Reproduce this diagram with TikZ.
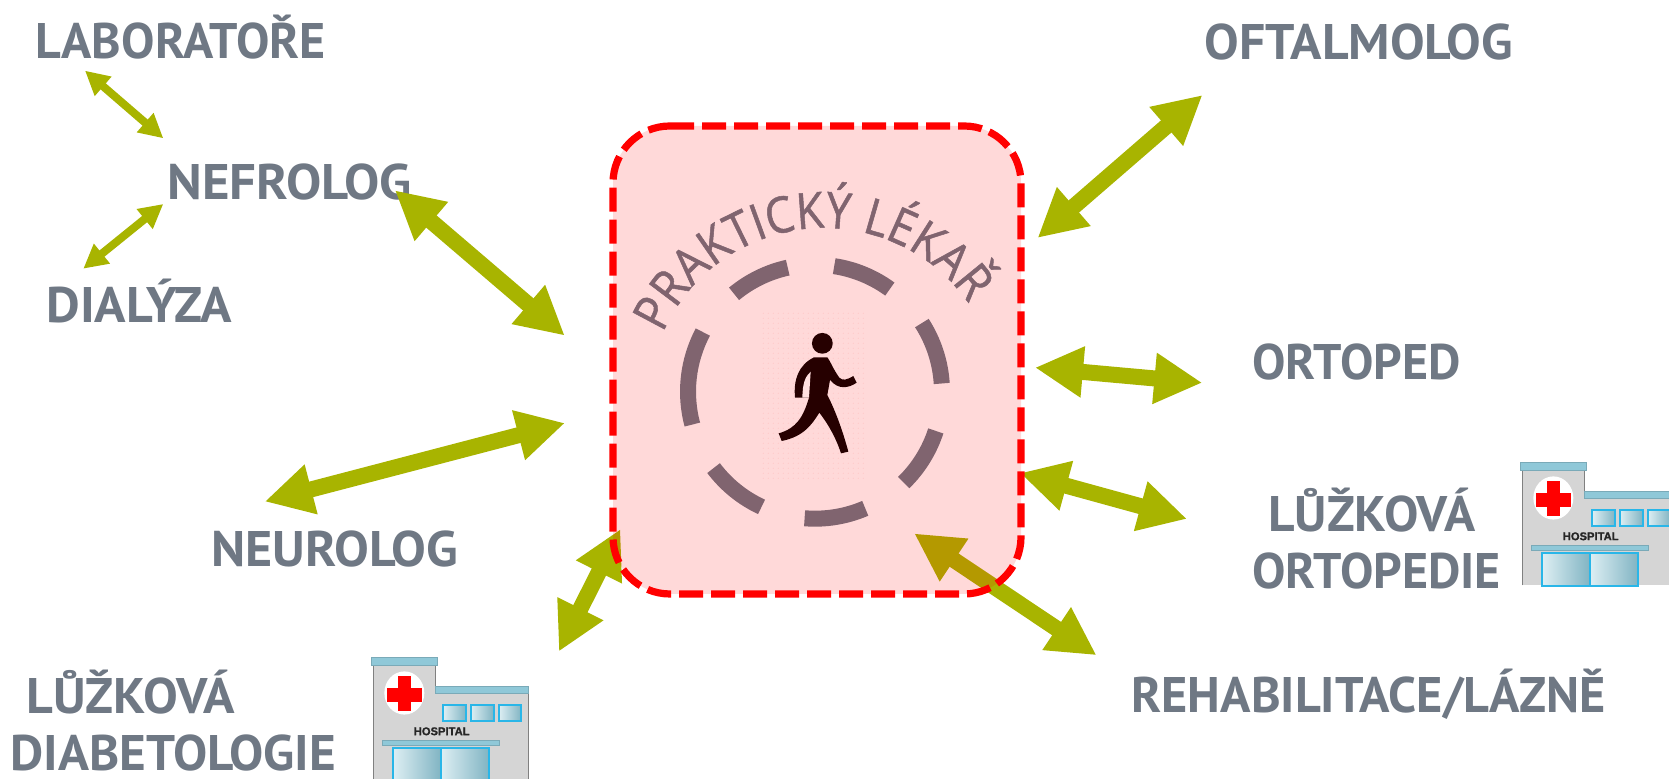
\documentclass[tikz,border=0pt]{standalone}
\usepackage{graphicx}
\usepackage{fontspec}
\usetikzlibrary{arrows.meta,decorations.text}
\setmainfont{PT Sans}
\newfontfamily\curvefont[FakeStretch=0.9,FakeBold=1]{Open Sans}
\newfontfamily\hospfont[FakeBold=1.2]{Liberation Sans}
\definecolor{labelgrey}{HTML}{6F7884}
\definecolor{arrowolive}{HTML}{A8B400}
\definecolor{ringmauve}{HTML}{80646F}
\definecolor{walkerdark}{HTML}{260000}
\definecolor{roofblue}{HTML}{8FC8D8}
\definecolor{glassblue}{HTML}{29B6E8}
\definecolor{wallgrey}{HTML}{D5D5D5}
\newcommand{\wide}[2]{\scalebox{#1}[1]{#2}}
\tikzset{
  lbl/.style={anchor=base west,inner sep=0pt,text=labelgrey,font=\fontsize{25}{25}\selectfont\bfseries},
  bigarrow/.style={draw=arrowolive,line width=8pt,shorten <=-.5pt,shorten >=-.5pt,{Triangle[length=24pt,width=24pt]}-{Triangle[length=24pt,width=24pt]}},
  thinarrow/.style={draw=arrowolive,line width=4pt,{Triangle[length=12pt,width=12pt]}-{Triangle[length=12pt,width=12pt]}},
  ringarc/.style={draw=ringmauve,line width=8pt},
  glass/.style={draw=glassblue,line width=.9pt,left color=roofblue!30,right color=roofblue!90!black},
  roof/.style={fill=roofblue,draw=roofblue!85!black,line width=.3pt},
}
\newcommand{\hospitalpic}[2]{%
\begin{scope}[shift={(#1,#2)},x=0.16667pt,y=-0.16667pt]
  \fill[wallgrey] (7,24) rectangle (193,110);
  \fill[wallgrey] (7,110) rectangle (473,370);
  \draw[gray,line width=.6pt] (7,370) -- (7,24);
  \draw[gray,line width=.6pt] (193,24) -- (193,90);
  \draw[gray,line width=.6pt] (473,110) -- (473,370);
  \draw[roof] (0,0) rectangle (200,24);
  \draw[roof] (193,87) rectangle (473,110);
  \fill[white] (100,108) ellipse [x radius=10pt,y radius=10.8pt];
  \fill[red] (82,56) rectangle (119,163);
  \fill[red] (49,93) rectangle (154,135);
  \draw[glass] (217,145) rectangle (285,191);
  \draw[glass] (299,145) rectangle (368,191);
  \draw[glass] (383,145) rectangle (451,191);
  \node[inner sep=0pt,font=\hospfont\fontsize{5.6}{5.6}\selectfont\bfseries,text=black!85] at (212,223) {HOSPITAL};
  \draw[roof] (34,251) rectangle (384,264);
  \draw[glass] (67,273) rectangle (210,372);
  \draw[glass] (210,273) rectangle (354,372);
\end{scope}}
\begin{document}
\begin{tikzpicture}[x=0.5pt,y=0.5pt]
\useasboundingbox (0,0) rectangle (1669,779);

% labels
\node[lbl] (lab) at (35,720) {LABORATOŘE};
\node[lbl] (nef) at (167,579) {\wide{1.056}{NEFROLOG}};
\node[lbl] (dia) at (46,456) {\wide{1.04}{DIALÝZA}};
\node[lbl] (neu) at (211,212) {\wide{1.04}{NEUROLOG}};
\node[lbl] (ldb) at (26,65) {\wide{1.04}{LŮŽKOVÁ}};
\node[lbl] (dib) at (10,8) {\wide{1.024}{DIABETOLOGIE}};
\node[lbl] (oft) at (1204,719) {\wide{1.036}{OFTALMOLOG}};
\node[lbl] (ort) at (1252,399) {ORTOPED};
\node[lbl] (lor) at (1268,247) {\wide{1.03}{LŮŽKOVÁ}};
\node[lbl] (orp) at (1252,190) {ORTOPEDIE};
\node[lbl] (reh) at (1131,66) {\wide{1.005}{REHABILITACE/LÁZNĚ}};

% hospitals
\begin{scope}
  \clip (0,0) rectangle (1669,779);
  \hospitalpic{371}{122}
  \hospitalpic{1520}{317}
\end{scope}

% arrow ends
\coordinate (a1) at (85,708.3);    \coordinate (a2) at (163.3,640.7);
\coordinate (b1) at (163.3,575);   \coordinate (b2) at (83.3,510.3);
\coordinate (c1) at (395.7,588);   \coordinate (c2) at (564,444);
\coordinate (d1) at (564,355.7);   \coordinate (d2) at (265.7,277.7);
\coordinate (e1) at (620,249);     \coordinate (e2) at (559.3,128.3);
\coordinate (f1) at (1201.7,683.3);\coordinate (f2) at (1038.3,541.7);
\coordinate (g1) at (1036,411.3);  \coordinate (g2) at (1201.3,396.3);
\coordinate (h1) at (1021,305.7);  \coordinate (h2) at (1186,260.3);
\coordinate (i1) at (915,245);     \coordinate (i2) at (1095.7,124.3);

\draw[thinarrow] (a1) -- (a2);
\draw[thinarrow] (b1) -- (b2);
\draw[bigarrow] (c1) -- (c2);
\draw[bigarrow] (d1) -- (d2);
\draw[bigarrow] (e1) -- (e2);
\draw[bigarrow] (f1) -- (f2);
\draw[bigarrow] (g1) -- (g2);
\draw[bigarrow] (h1) -- (h2);
\draw[bigarrow] (i1) -- (i2);

% box (drawn clockwise from the top-left so the dashes fall as in the reference)
\path[rounded corners=28.5pt,fill=red,fill opacity=.15,draw=red,draw opacity=1,line width=3.6pt,
      dash pattern=on 12pt off 4pt]
  (670,653) -- (1021,653) -- (1021,185) -- (613,185) -- (613,653) -- (670,653);

% ring
\coordinate (ringc) at (815,387.3);
\foreach \a/\b in {129.6/102.4,81.3/53.9,32.7/3.7,-18/-45.7,-66.7/-94.7,-114.9/-143,-165/-208}
  \draw[ringarc] (ringc) ++(\a:63.5pt) arc[start angle=\a,end angle=\b,radius=63.5pt];

% curved text
\coordinate (curvec) at (824,375);
\path[decorate,decoration={text along path,text align=center,
   text={|\curvefont\fontsize{25}{25}\selectfont\color{ringmauve}|PRAKTICKÝ LÉKAŘ}}]
   (curvec) ++(160:88pt) arc[start angle=160,end angle=31,radius=88pt];

% walker
\begin{scope}[shift={(740,479)},x=0.16667pt,y=-0.16667pt]
  \foreach \i in {0,...,20}\foreach \j in {0,...,33}
    \fill[red!30,opacity=.35] ({70+\i*15},{40+\j*15}) circle[radius=.35pt];
  \fill[walkerdark] (247,130) circle[radius=5.2pt];
  \fill[walkerdark] (222,172) -- (262,172) .. controls (272,185) and (278,205) .. (298,233)
    .. controls (308,243) and (320,240) .. (340,228) -- (350,248)
    .. controls (325,265) and (295,270) .. (270,240)
    -- (262,285) .. controls (290,340) and (310,400) .. (325,455) -- (303,460)
    .. controls (290,420) and (270,380) .. (238,338)
    .. controls (215,375) and (190,410) .. (125,423) -- (116,400)
    .. controls (170,385) and (190,350) .. (207,293) -- (165,293)
    .. controls (160,240) and (175,195) .. (222,172) -- cycle;
  \fill[red!12] (187,293) -- (207,293) -- (212,215) .. controls (195,230) and (188,250) .. (187,293) -- cycle;
\end{scope}
\end{tikzpicture}
\end{document}
